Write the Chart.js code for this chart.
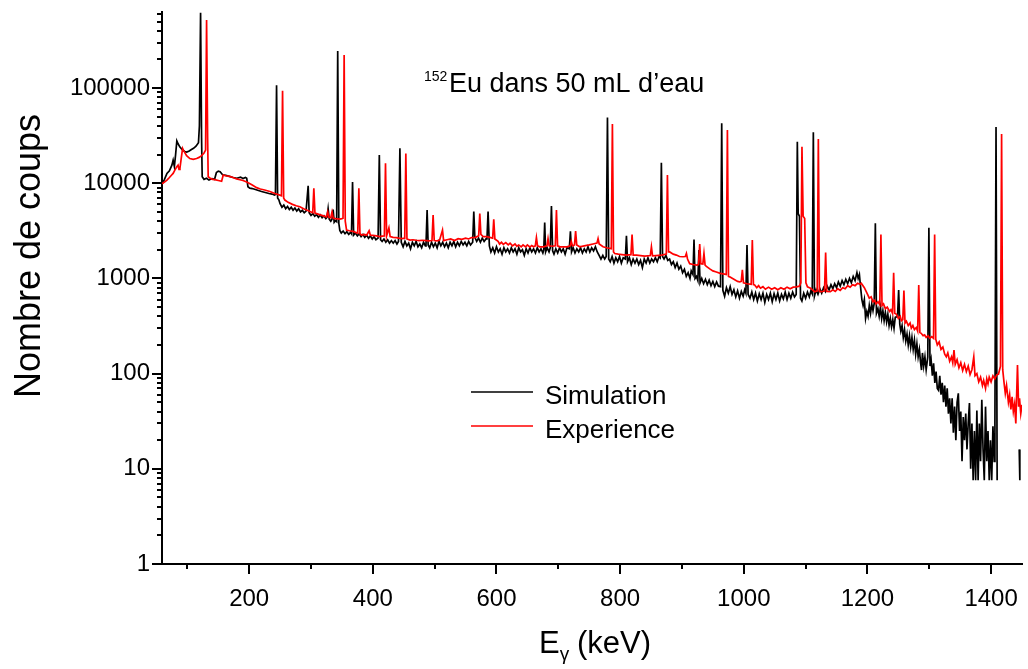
<!DOCTYPE html>
<html>
<head>
<meta charset="utf-8">
<title>152Eu dans 50 mL d'eau</title>
<script src="https://cdn.jsdelivr.net/npm/chart.js@4.4.0/dist/chart.umd.min.js"></script>
<style>
  html, body { margin: 0; padding: 0; background: #fff; }
  canvas { display: block; }
</style>
</head>
<body>
<canvas id="spectre" width="1028" height="669"></canvas>
<script>
// Spectre gamma 152Eu : energie (keV), nombre de coups
const simulation = [
  [59, 9800], [63, 11000], [67, 12700], [71, 13500], [75, 15500], [77, 17500], [79, 15000],
  [81, 20000], [83, 27900], [85, 26000], [88, 24000], [92, 22500], [96, 21500], [99, 21300],
  [103, 21800], [106, 22500], [110, 23300], [114, 24500], [118, 26700], [119.5, 40000],
  [121.4, 620000], [123, 30000], [124, 11700], [127, 11000], [131, 11300], [135, 10800],
  [140, 11200], [144, 11000], [147, 13000], [150, 13400], [153, 13200], [157, 12300],
  [162, 12100], [168, 11800], [174, 11500], [180, 11300], [186, 11600], [190, 11200],
  [194, 11500], [196, 11300], [198, 9200], [201, 8900], [205, 8800], [210, 8600], [215, 8400],
  [220, 8200], [226, 8000], [232, 7800], [237, 7700], [241, 7500], [242.5, 7600],
  [244.3, 107000], [246, 7000], [248, 6700], [250, 6100], [253, 5600], [256, 5900],
  [259, 5400], [262, 5700], [265, 5300], [268, 5600], [271, 5200], [274, 5500], [277, 5100],
  [280, 5400], [283, 5000], [286, 5200], [289, 4900], [292, 5100], [293.5, 5100],
  [295.4, 9400], [297, 4900], [300, 4600], [303, 4800], [306, 4500], [309, 4700],
  [312, 4400], [315, 4650], [318, 4350], [321, 4550], [324, 4250], [326, 4400],
  [327.7, 5400], [329.5, 4200], [332, 4000], [334, 4200], [335.8, 5300], [337.5, 3900],
  [339.5, 4050], [341.5, 3950], [343.2, 245000], [345, 3800], [346.6, 3200], [349, 3000],
  [352, 3150], [355, 2950], [358, 3100], [361, 2900], [364, 3050], [365.5, 2950],
  [367.2, 10300], [369, 2850], [372, 3000], [375, 2800], [378, 2950], [381, 2750],
  [384, 2900], [387, 2700], [390, 2850], [393, 2650], [396, 2800], [399, 2600], [402, 2750],
  [405, 2550], [408.5, 2650], [410.5, 19800], [412.5, 2550], [415, 2450], [418, 2600],
  [421, 2400], [424, 2550], [427, 2350], [430, 2500], [433, 2350], [436, 2500], [439, 2300],
  [441.5, 2450], [443.8, 23300], [446, 2400], [449, 2150], [452, 2450], [455, 2200],
  [458, 2350], [461, 2050], [464, 2400], [467, 2200], [470, 2450], [473, 2150], [476, 2300],
  [479, 2100], [482, 2400], [485, 2200], [486, 2250], [487.8, 5230], [489.5, 2250],
  [492, 2100], [495, 2400], [498, 2150], [501, 2350], [504, 2100], [507, 2450], [510, 2200],
  [513, 2400], [516, 2150], [519, 2350], [522, 2100], [525, 2400], [528, 2200], [531, 2450],
  [534, 2150], [537, 2400], [540, 2200], [543, 2450], [546, 2250], [549, 2400], [552, 2200],
  [555, 2450], [558, 2250], [561.5, 2400], [563.3, 5040], [565, 2700], [568, 2450],
  [571, 2650], [574, 2400], [577, 2650], [580, 2450], [583, 2600], [584.6, 2600],
  [586.4, 5040], [588.5, 2200], [591, 1900], [594, 2100], [597, 1850], [600, 2150],
  [603, 1900], [606, 2050], [609, 1800], [612, 2100], [615, 1900], [618, 2050], [621, 1850],
  [624, 2100], [627, 1900], [630, 2050], [633, 1800], [636, 2100], [639, 1900], [642, 2000],
  [645, 1750], [648, 2050], [651, 1850], [654, 2100], [657, 1900], [660, 2050], [663, 1850],
  [666, 2100], [669, 1900], [672, 2050], [675, 1850], [676.5, 2000], [678, 3870],
  [679.5, 1900], [682, 2100], [685, 1900], [687, 2100], [688.9, 5770], [690.8, 1950],
  [693, 1800], [696, 2050], [699, 1850], [702, 2100], [705, 1900], [708, 2050], [711, 1800],
  [714, 2100], [717.8, 2050], [719.6, 3120], [721.4, 1900], [724, 2100], [727, 1850],
  [730, 2050], [733, 1900], [736, 2100], [739, 1850], [742, 2050], [745, 1900], [748, 2150],
  [751, 1900], [754, 2100], [757, 1950], [760, 2150], [763, 1900], [766, 1750], [769, 1600],
  [772, 1750], [775, 1600], [777.5, 1700], [779.5, 49200], [781.5, 1600], [784, 1500],
  [787, 1700], [790, 1450], [793, 1650], [796, 1500], [799, 1700], [802, 1450], [805, 1650],
  [808.4, 1600], [810.2, 2800], [812, 1500], [815, 1650], [818, 1400], [821, 1600],
  [824, 1450], [827, 1600], [830, 1400], [833, 1550], [836, 1300], [839, 1600], [842, 1450],
  [845, 1650], [848, 1450], [851, 1600], [854, 1500], [857, 1650], [860, 1500], [863, 1700],
  [864.8, 1650], [866.7, 16400], [868.6, 1700], [871, 1600], [874, 1750], [877, 1550],
  [880, 1600], [883, 1400], [886, 1500], [889, 1300], [892, 1450], [895, 1250], [898, 1350],
  [901, 1150], [904, 1250], [907, 1050], [910, 1150], [913, 1000], [915, 1200],
  [917.8, 1100], [919.5, 2560], [921.2, 1000], [923.5, 1050], [925.7, 950], [927.5, 1990],
  [929.3, 900], [932, 1000], [935, 880], [938, 980], [941, 860], [944, 960], [947, 840],
  [950, 930], [953, 820], [956, 920], [959, 830], [962.4, 820], [964.3, 42600], [966.2, 750],
  [969, 650], [972, 800], [975, 700], [978, 820], [981, 680], [984, 760], [987, 640],
  [990, 740], [993, 620], [996, 730], [999, 650], [1001.5, 760], [1003.4, 700],
  [1005.2, 2240], [1007, 680], [1010, 620], [1013, 720], [1016, 600], [1019, 700],
  [1022, 580], [1025, 690], [1028, 600], [1031, 700], [1034, 560], [1037, 680], [1040, 600],
  [1043, 700], [1046, 570], [1049, 690], [1052, 600], [1055, 700], [1058, 580], [1061, 680],
  [1064, 610], [1067, 720], [1070, 600], [1073, 700], [1076, 620], [1079, 720], [1082, 640],
  [1084.8, 680], [1086.6, 27300], [1088, 4800], [1090, 4500], [1091.8, 620], [1094, 580],
  [1097, 700], [1100, 620], [1103, 720], [1106, 640], [1108.5, 740], [1110.7, 690],
  [1112.5, 34300], [1114.3, 650], [1117, 760], [1120, 680], [1123, 780], [1126, 700],
  [1129, 800], [1132, 730], [1135, 830], [1138, 760], [1141, 860], [1144, 780], [1147, 880],
  [1150, 800], [1153, 920], [1156, 830], [1159, 950], [1162, 860], [1165, 980], [1168, 880],
  [1171, 1000], [1174, 900], [1177, 1050], [1180, 950], [1183, 1150], [1185, 1000],
  [1187, 1100], [1189, 800], [1191, 600], [1193, 520], [1195, 600], [1197, 380], [1199, 450],
  [1201, 400], [1203, 520], [1205, 430], [1207, 540], [1209, 460], [1211, 550],
  [1212.8, 3790], [1214.6, 430], [1217, 480], [1219, 400], [1221, 500], [1223, 380],
  [1225, 460], [1227, 360], [1229, 440], [1231, 350], [1233, 420], [1235, 320], [1237, 380],
  [1239, 310], [1241, 370], [1243, 300], [1245, 390], [1248.7, 400], [1250.5, 755],
  [1252.3, 330], [1254, 280], [1256, 320], [1258, 240], [1260, 290], [1262, 220],
  [1264, 260], [1266, 200], [1268, 250], [1270, 190], [1272, 240], [1274, 180], [1276, 225],
  [1278, 160], [1280, 205], [1282, 150], [1284, 180], [1286, 130], [1287.5, 109],
  [1289, 165], [1291, 120], [1293, 150], [1295, 110], [1297.6, 150], [1299.4, 3400],
  [1301.2, 120], [1303, 140], [1305, 95], [1307, 128], [1309, 80], [1311, 105], [1313, 70],
  [1315, 67], [1317, 95], [1319, 60], [1321, 80], [1323, 50], [1325, 75], [1327, 45],
  [1329, 70], [1331, 38], [1333, 55], [1335, 30], [1337, 55], [1339, 24], [1341, 45],
  [1343, 20], [1345, 50], [1347, 62], [1349, 25], [1351, 40], [1353, 12], [1355, 35],
  [1357, 20], [1359, 38], [1361, 16], [1363, 30], [1365, 49], [1367, 10], [1369, 30],
  [1371, 7.6], [1373, 25], [1375, 7.6], [1377, 41], [1379, 7.6], [1381, 30], [1383, 12],
  [1385, 53], [1387, 16], [1389, 7.6], [1391, 45], [1393, 12], [1395, 25], [1397, 7.6],
  [1399, 20], [1401, 7.6], [1403, 28], [1405, 12], [1406.2, 30], [1408, 39000],
  [1409.8, 7.6], [1420, null], [1445.5, 16], [1446.5, 7.6]
];

const experience = [
  [59, 9900], [63, 10300], [67, 10800], [71, 11500], [75, 12300], [77, 12700], [80, 13800],
  [82.6, 14800], [85, 15500], [86.5, 14000], [88, 14300], [90, 18000], [92.3, 23200],
  [94, 22000], [98.8, 19500], [104, 18200], [109.5, 17800], [115, 18200], [119, 18700],
  [123, 19500], [127, 20800], [129.5, 22300], [131.1, 518000], [132.8, 30000],
  [133.7, 11700], [137, 11300], [141, 11000], [144.5, 10900], [150, 10700], [155.4, 10500],
  [157, 11500], [158, 12200], [162, 12000], [168, 11800], [174, 11500], [179.6, 11100],
  [185, 10900], [190, 10700], [195, 10400], [198.4, 10100], [205, 9600], [212, 9000],
  [218, 8700], [225, 8500], [233.5, 8200], [241.6, 7800], [249.6, 7500], [252.2, 7400],
  [254, 94000], [255.8, 7000], [257.7, 6660], [263, 6300], [270, 6000], [276, 5800],
  [282, 5660], [288, 5400], [294, 5200], [300, 5000], [302.8, 4900], [304.6, 8840],
  [306.4, 4850], [309, 4800], [315, 4650], [320, 4550], [325, 4440], [327, 5000],
  [329, 4400], [332, 4350], [334, 5000], [336, 4300], [340, 4250], [346.6, 4200],
  [350, 4250], [351.8, 4300], [353.6, 222000], [355.4, 4000], [357.5, 3220], [362, 3170],
  [368, 3120], [372, 3050], [375.6, 3000], [377.4, 8840], [379.2, 2950], [381.7, 2860],
  [386, 2900], [390, 2850], [394, 3170], [396, 2850], [400, 2830], [406, 2800], [411, 2750],
  [415, 2780], [418.7, 2800], [420.5, 16200], [422.3, 2800], [426, 3400], [428, 2750],
  [432.8, 2700], [438, 2680], [442, 2650], [447, 2620], [451.6, 2650], [453.4, 20600],
  [455.2, 2600], [460, 2530], [465, 2550], [470, 2520], [475, 2500], [480, 2520], [487, 2500],
  [490, 2480], [495.7, 2500], [497.5, 4640], [499.3, 2500], [504, 2480], [508, 2530],
  [512.7, 3220], [514.5, 2500], [520, 2550], [526, 2600], [532, 2500], [538, 2620],
  [544, 2580], [550, 2650], [555, 2600], [559.6, 2690], [566, 2700], [571.2, 2800],
  [573, 4800], [574.8, 2900], [578.4, 2750], [584, 2750], [589, 2700], [593.8, 2650],
  [595.6, 4190], [597.4, 2600], [602.6, 2450], [605, 2300], [608, 2400], [611, 2280],
  [615, 2380], [619, 2250], [622, 2350], [626, 2200], [630, 2300], [633, 2180], [636, 2250],
  [640, 2150], [643, 2250], [647, 2150], [650, 2250], [654, 2130], [657, 2220], [660, 2150],
  [662.8, 2200], [664.6, 2690], [666.4, 2200], [670, 2150], [676, 2150], [681.6, 2200],
  [683.4, 2620], [685.2, 2200], [690, 2180], [695.2, 2200], [697, 5230], [698.8, 2200],
  [702.4, 2150], [708, 2150], [714, 2150], [719.2, 2200], [721, 2450], [723, 2200],
  [726.2, 2250], [728, 3150], [729.8, 2250], [734.7, 2150], [742, 2200], [750, 2250],
  [756.2, 2300], [762.5, 2350], [764.3, 2620], [766.1, 2300], [772.4, 2150], [778, 2100],
  [785.7, 2050], [787.5, 41900], [789.3, 1900], [791.3, 1830], [797, 1800], [803, 1780],
  [810, 1760], [817.5, 1780], [819.3, 2900], [821.1, 1760], [826.4, 1760], [833, 1740],
  [840, 1720], [848.8, 1740], [850.6, 2150], [852.4, 1730], [858, 1740], [866.8, 1760],
  [874.7, 1800], [876.5, 12200], [878.3, 1900], [880.2, 1900], [886, 1800], [891, 1760],
  [896, 1700], [901.7, 1690], [905.4, 1700], [907.2, 1830], [909, 1600], [912.5, 1430],
  [918, 1400], [924, 1380], [926.9, 1400], [928.7, 2300], [930.5, 1430], [933.8, 1420],
  [935.6, 1830], [937.4, 1380], [939.5, 1340], [945, 1260], [950, 1200], [955.6, 1170],
  [962, 1130], [969, 1110], [971.7, 1100], [973.5, 36200], [975.3, 1050], [977.2, 1040],
  [984, 980], [990, 930], [993.4, 920], [995.9, 930], [997.7, 1230], [999.5, 900],
  [1005, 880], [1012, 870], [1013.8, 2530], [1015.6, 860], [1017.6, 853], [1021, 800],
  [1024, 840], [1027, 790], [1031, 820], [1035, 770], [1040, 810], [1045, 770], [1050, 800],
  [1055, 760], [1060, 800], [1065, 770], [1070, 810], [1075, 780], [1080, 810], [1085, 815],
  [1090, 830], [1092.3, 900], [1094.1, 24200], [1096, 4500], [1098.5, 4260], [1100.5, 900],
  [1103, 815], [1108, 790], [1114.6, 725], [1118.8, 740], [1120.6, 29100], [1122.4, 730],
  [1126, 725], [1130.6, 740], [1132.4, 1870], [1134.2, 730], [1140, 725], [1144, 760],
  [1148, 730], [1152, 780], [1156, 750], [1160, 800], [1164, 780], [1168, 840], [1172, 810],
  [1176, 860], [1180, 840], [1184, 890], [1188, 870], [1190, 890], [1195, 800],
  [1200.8, 669], [1203, 620], [1206, 640], [1209, 570], [1211.6, 590], [1214, 540],
  [1217, 570], [1220, 530], [1221.8, 2900], [1223.6, 520], [1226, 540], [1229, 480],
  [1232, 500], [1235.9, 450], [1238, 470], [1240.6, 430], [1242.4, 1150], [1244.2, 430],
  [1247, 420], [1250, 380], [1253, 400], [1255, 360], [1257.2, 370], [1259, 745],
  [1260.8, 340], [1263, 355], [1266, 320], [1269, 340], [1271, 300], [1273.5, 320],
  [1276, 290], [1279, 305], [1281.2, 280], [1283, 853], [1284.8, 270], [1287, 265],
  [1290, 250], [1292.5, 255], [1295, 240], [1298, 250], [1301, 235], [1304, 245],
  [1306.9, 235], [1308.7, 2900], [1310.5, 230], [1313, 200], [1316, 215], [1319, 180],
  [1322, 190], [1325, 160], [1327.6, 150], [1330, 165], [1333, 135], [1336, 150],
  [1338, 130], [1340, 177], [1342, 125], [1345, 140], [1348, 115], [1351, 130], [1354, 108],
  [1357, 125], [1360, 105], [1363, 120], [1366, 98], [1369, 110], [1372, 150], [1374, 95],
  [1377, 100], [1380, 82], [1383, 92], [1386, 75], [1388, 85], [1391, 70], [1393, 88],
  [1395, 78], [1397, 92], [1400, 82], [1403, 95], [1406, 88], [1409, 97], [1412, 99],
  [1415.2, 120], [1417, 33000], [1418.8, 110], [1421, 80], [1423, 62], [1425, 75],
  [1428, 50], [1430, 60], [1432, 42], [1434, 57], [1436, 40], [1438, 48], [1440, 30],
  [1442.7, 123], [1444.5, 45], [1446, 55], [1448, 38], [1450, 47]
];

const xTickValues = [200, 400, 600, 800, 1000, 1200, 1400];
const yTickValues = [1, 10, 100, 1000, 10000, 100000];
const seriesNames = ["Simulation", "Experience"];
const seriesColors = ["#000000", "#ff0000"];

const FONT = "'Liberation Sans', Arial, sans-serif";

function toPoints(rows) {
  return rows.map((r) => ({ x: r[0], y: r[1] }));
}

// ticks secondaires, titres, legende et annotation
const decorPlugin = {
  id: "decor",
  afterDraw(chart) {
    const ctx = chart.ctx;
    const a = chart.chartArea;
    const xs = chart.scales.x;
    const ys = chart.scales.y;
    ctx.save();
    ctx.strokeStyle = "#000";
    ctx.lineWidth = 2;
    ctx.beginPath();
    for (let d = 0; d <= 5; d++) {
      for (let k = 1; k <= 9; k++) {
        const v = k * Math.pow(10, d);
        if (v > ys.max) break;
        const py = Math.round(ys.getPixelForValue(v));
        const len = k === 1 ? 10 : 5;
        ctx.moveTo(a.left - len, py);
        ctx.lineTo(a.left, py);
      }
    }
    for (let e = 100; e <= xs.max; e += 100) {
      const px = Math.round(xs.getPixelForValue(e));
      const len = e % 200 === 0 ? 10 : 5;
      ctx.moveTo(px, a.bottom);
      ctx.lineTo(px, a.bottom + len);
    }
    ctx.stroke();

    ctx.fillStyle = "#000";
    // titre de l'axe y
    ctx.save();
    ctx.translate(30, 256);
    ctx.rotate(-Math.PI / 2);
    ctx.font = "36px " + FONT;
    ctx.textAlign = "center";
    ctx.textBaseline = "middle";
    ctx.fillText("Nombre de coups", 0, 0);
    ctx.restore();

    // titre de l'axe x : E indice gamma (keV)
    ctx.textAlign = "left";
    ctx.textBaseline = "alphabetic";
    ctx.font = "31px " + FONT;
    ctx.fillText("E", 539, 653);
    const wE = ctx.measureText("E").width;
    ctx.font = "19px " + FONT;
    ctx.fillText("\u03b3", 539 + wE, 660);
    ctx.font = "31px " + FONT;
    ctx.fillText("(keV)", 577, 653);

    // annotation
    ctx.font = "14px " + FONT;
    ctx.fillText("152", 424, 81);
    ctx.font = "27px " + FONT;
    ctx.fillText("Eu dans 50 mL d\u2019eau", 449, 92);

    // legende
    const legY = [392, 426];
    ctx.lineWidth = 1.5;
    ctx.font = "26px " + FONT;
    seriesNames.forEach((name, i) => {
      ctx.strokeStyle = seriesColors[i];
      ctx.beginPath();
      ctx.moveTo(471, legY[i]);
      ctx.lineTo(533, legY[i]);
      ctx.stroke();
      ctx.fillStyle = "#000";
      ctx.fillText(name, 545, legY[i] + 12);
    });
    ctx.restore();
  },
};

const data = {
  datasets: [
    {
      label: seriesNames[0],
      data: toPoints(simulation),
      borderColor: seriesColors[0],
      borderWidth: 1.7,
      pointRadius: 0,
      tension: 0,
      spanGaps: false,
      order: 1,
    },
    {
      label: seriesNames[1],
      data: toPoints(experience),
      borderColor: seriesColors[1],
      borderWidth: 1.7,
      pointRadius: 0,
      tension: 0,
      order: 0,
    },
  ],
};

const config = {
  type: "line",
  data: data,
  plugins: [decorPlugin],
  options: {
    responsive: false,
    animation: false,
    devicePixelRatio: 1,
    layout: { padding: { left: 0, top: 12, right: 6, bottom: 0 } },
    plugins: {
      legend: { display: false },
      tooltip: { enabled: false },
    },
    scales: {
      x: {
        type: "linear",
        min: 59,
        max: 1450,
        afterBuildTicks: (s) => {
          s.ticks = xTickValues.map((v) => ({ value: v }));
        },
        afterFit: (s) => {
          s.height = 105;
          s.paddingLeft = 0;
          s.paddingRight = 0;
        },
        grid: { display: false, drawTicks: true, tickLength: 10 },
        border: { display: true, color: "#000", width: 2 },
        ticks: {
          font: { family: FONT, size: 24 },
          color: "#000",
          padding: 11,
          maxRotation: 0,
          autoSkip: false,
          callback: (v) => String(v),
        },
      },
      y: {
        type: "logarithmic",
        min: 1,
        max: 630000,
        afterBuildTicks: (s) => {
          s.ticks = yTickValues.map((v) => ({ value: v }));
        },
        afterFit: (s) => {
          s.width = 162;
          s.paddingTop = 0;
          s.paddingBottom = 0;
        },
        grid: { display: false, drawTicks: true, tickLength: 10 },
        border: { display: true, color: "#000", width: 2 },
        ticks: {
          font: { family: FONT, size: 24 },
          color: "#000",
          padding: 2,
          autoSkip: false,
          callback: (v) => String(v),
        },
      },
    },
  },
};

const ctx = document.getElementById("spectre").getContext("2d");
new Chart(ctx, config);
</script>
</body>
</html>
